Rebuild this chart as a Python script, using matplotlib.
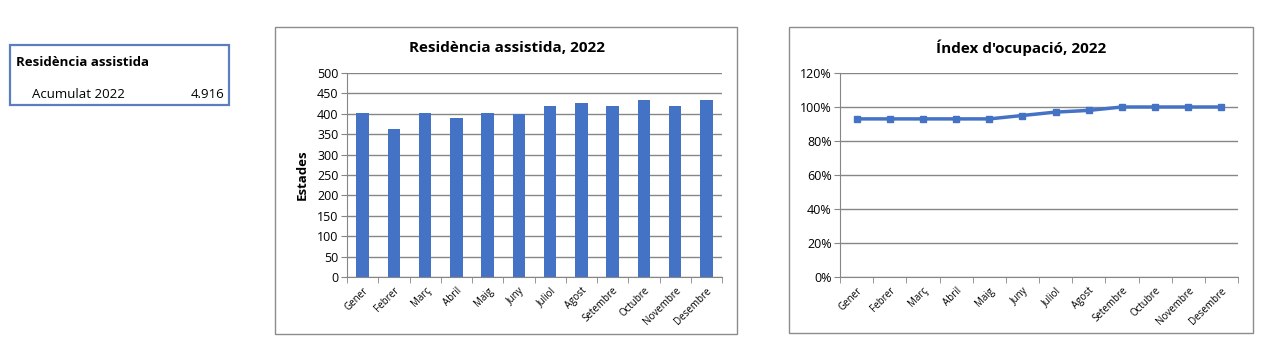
import matplotlib
matplotlib.use('Agg')
import matplotlib.pyplot as plt
from matplotlib.patches import Rectangle
from matplotlib.ticker import FuncFormatter

plt.rcParams['font.family'] = ['Open Sans', 'DejaVu Sans']

mesos = ['Gener', 'Febrer', 'Març', 'Abril', 'Maig', 'Juny', 'Juliol',
         'Agost', 'Setembre', 'Octubre', 'Novembre', 'Desembre']
estades = [403, 363, 403, 390, 403, 399, 420, 427, 420, 434, 420, 434]
ocupacio = [93, 93, 93, 93, 93, 95, 97, 98, 100, 100, 100, 100]
acumulat = '4.916'

W, H = 1265, 361
blau = '#4472C4'
gris = '#868686'

fig = plt.figure(figsize=(W / 100, H / 100), dpi=100)


def px(x0, y0, x1, y1):
    # pixel box (top-left origin) -> figure fraction
    return [x0 / W, 1 - y1 / H, (x1 - x0) / W, (y1 - y0) / H]


def marc(x0, y0, x1, y1, color, lw):
    fig.patches.append(Rectangle((x0 / W, 1 - y1 / H), (x1 - x0) / W, (y1 - y0) / H,
                                 transform=fig.transFigure, fill=False,
                                 edgecolor=color, linewidth=lw))


# resum box
marc(10, 45, 229, 105, '#5A7EBE', 1.6)
fig.text(16 / W, 1 - 63 / H, 'Residència assistida', fontsize=9.5, fontweight='bold',
         va='center', ha='left')
fig.text(32 / W, 1 - 95 / H, 'Acumulat 2022', fontsize=9.5, va='center', ha='left')
fig.text(224 / W, 1 - 95 / H, acumulat, fontsize=9.5, va='center', ha='right')

# chart frames
marc(275, 27, 737, 334, '#8c8c8c', 1.0)
marc(789, 27, 1253, 333, '#8c8c8c', 1.0)


def estil(ax):
    ax.set_xlim(0.5, 12.5)
    for s in ['top', 'right']:
        ax.spines[s].set_visible(False)
    for s in ['left', 'bottom']:
        ax.spines[s].set_color(gris)
    ax.grid(axis='y', color=gris, linewidth=1.0)
    ax.set_axisbelow(True)
    ax.set_xticks(range(1, 13))
    ax.set_xticklabels(mesos, rotation=45, ha='right', rotation_mode='anchor', fontsize=7)
    ax.tick_params(axis='x', which='major', length=0, pad=6)
    ax.set_xticks([i + 0.5 for i in range(0, 13)], minor=True)
    ax.tick_params(axis='x', which='minor', length=4, color=gris)
    ax.tick_params(axis='y', length=4, color=gris, labelsize=9, pad=2)


# bar chart
ax1 = fig.add_axes(px(347, 73, 722, 277))
ax1.bar(range(1, 13), estades, width=0.4, color=blau)
ax1.set_ylim(0, 500)
ax1.set_yticks(range(0, 501, 50))
estil(ax1)
ax1.set_ylabel('Estades', fontsize=9.5, fontweight='bold', labelpad=6)
fig.text(507 / W, 1 - 48 / H, 'Residència assistida, 2022', fontsize=11,
         fontweight='bold', ha='center', va='center')

# line chart
ax2 = fig.add_axes(px(840, 73, 1238, 277))
ax2.plot(range(1, 13), ocupacio, color=blau, linewidth=2.5, marker='s', markersize=5)
ax2.set_ylim(0, 120)
ax2.set_yticks(range(0, 121, 20))
ax2.yaxis.set_major_formatter(FuncFormatter(lambda v, p: f'{int(v)}%'))
estil(ax2)
fig.text(1021 / W, 1 - 48 / H, "Índex d'ocupació, 2022", fontsize=11,
         fontweight='bold', ha='center', va='center')

fig.savefig('out.png', dpi=100)
